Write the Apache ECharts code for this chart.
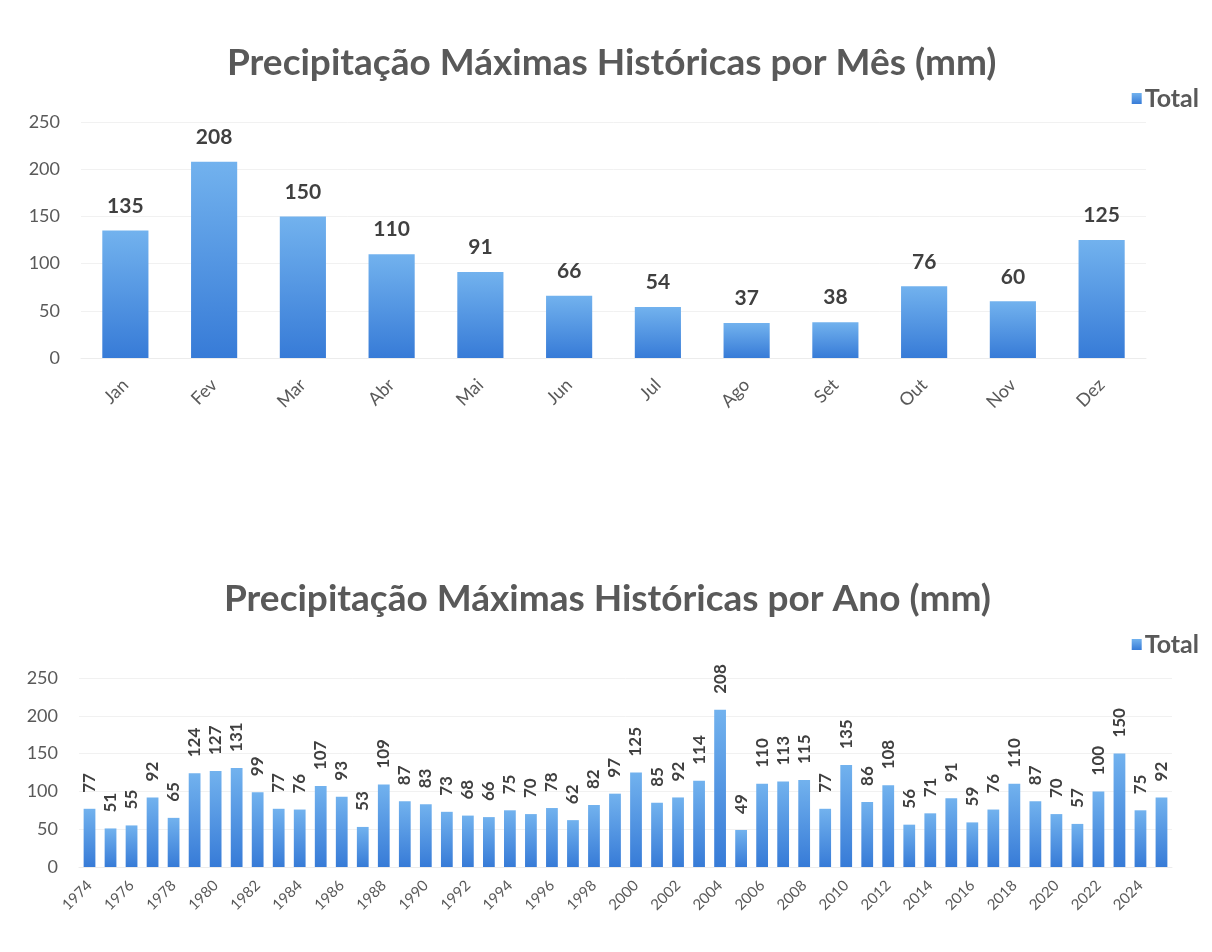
<!DOCTYPE html>
<html>
<head>
<meta charset="utf-8">
<script src="https://cdn.jsdelivr.net/npm/echarts@6/dist/echarts.min.js"></script>
<style>
  html, body { margin: 0; background: #fff; }
  #chart { width: 1212px; height: 952px; }
</style>
</head>
<body>
<div id="chart"></div>
<script>
// maximos mensais
const months = ['Jan', 'Fev', 'Mar', 'Abr', 'Mai', 'Jun', 'Jul', 'Ago', 'Set', 'Out', 'Nov', 'Dez'];
const monthMax = [135, 208, 150, 110, 91, 66, 54, 37, 38, 76, 60, 125];

// maximos anuais
const years = ['1974', '1975', '1976', '1977', '1978', '1979', '1980', '1981', '1982', '1983',
  '1984', '1985', '1986', '1987', '1988', '1989', '1990', '1991', '1992', '1993',
  '1994', '1995', '1996', '1997', '1998', '1999', '2000', '2001', '2002', '2003',
  '2004', '2005', '2006', '2007', '2008', '2009', '2010', '2011', '2012', '2013',
  '2014', '2015', '2016', '2017', '2018', '2019', '2020', '2021', '2022', '2023',
  '2024', '2025'];
const yearMax = [77, 51, 55, 92, 65, 124, 127, 131, 99, 77,
  76, 107, 93, 53, 109, 87, 83, 73, 68, 66,
  75, 70, 78, 62, 82, 97, 125, 85, 92, 114,
  208, 49, 110, 113, 115, 77, 135, 86, 108, 56,
  71, 91, 59, 76, 110, 87, 70, 57, 100, 150,
  75, 92];

const FONT = 'Lato, "Open Sans", sans-serif';
const GRAY = '#595959';

let barColor = new echarts.graphic.LinearGradient(0, 0, 0, 1, [
  { offset: 0, color: '#72b2ee' },
  { offset: 1, color: '#377bd7' }
]);

let chart = echarts.init(document.getElementById('chart'));

let valueAxis = (idx) => ({
  type: 'value',
  gridIndex: idx,
  min: 0,
  max: 250,
  interval: 50,
  axisLabel: { color: GRAY, fontSize: 18, fontFamily: FONT, margin: 21 },
  splitLine: { lineStyle: { color: '#f1f1f1' } },
  axisLine: { show: false },
  axisTick: { show: false }
});

let legendItem = (top) => ({
  data: ['Total'],
  right: 8,
  top: top,
  itemWidth: 10,
  itemHeight: 11,
  icon: 'rect',
  itemGap: 4,
  textStyle: { color: GRAY, fontSize: 25, fontWeight: 'bold', fontFamily: FONT, padding: [0, 0, 0, -2] }
});

let option = {
  animation: false,
  backgroundColor: '#fff',
  title: [
    {
      text: 'Precipitação Máximas Históricas por Mês (mm)',
      left: 222,
      top: 40,
      textStyle: { color: GRAY, fontSize: 37, fontWeight: 'bold', fontFamily: FONT }
    },
    {
      text: 'Precipitação Máximas Históricas por Ano (mm)',
      left: 219,
      top: 576,
      textStyle: { color: GRAY, fontSize: 37, fontWeight: 'bold', fontFamily: FONT }
    }
  ],
  legend: [legendItem(81), legendItem(627)],
  grid: [
    { left: 81, right: 66, top: 122, height: 236 },
    { left: 79, right: 40, top: 678, height: 189 }
  ],
  xAxis: [
    {
      type: 'category',
      gridIndex: 0,
      data: months,
      axisLine: { lineStyle: { color: '#ececec' } },
      axisTick: { show: false },
      axisLabel: { color: GRAY, fontSize: 18, fontFamily: FONT, rotate: 45, margin: 24 }
    },
    {
      type: 'category',
      gridIndex: 1,
      data: years,
      axisLine: { lineStyle: { color: '#ececec' } },
      axisTick: { show: false },
      axisLabel: { color: GRAY, fontSize: 15, fontFamily: FONT, rotate: 45, margin: 16, interval: 1 }
    }
  ],
  yAxis: [valueAxis(0), valueAxis(1)],
  series: [
    {
      name: 'Total',
      type: 'bar',
      xAxisIndex: 0,
      yAxisIndex: 0,
      data: monthMax,
      barCategoryGap: '48%',
      itemStyle: { color: barColor },
      label: {
        show: true,
        position: 'top',
        distance: 14,
        color: '#404040',
        fontSize: 21,
        fontWeight: 'bold',
        fontFamily: FONT
      }
    },
    {
      name: 'Total',
      type: 'bar',
      xAxisIndex: 1,
      yAxisIndex: 1,
      data: yearMax,
      barCategoryGap: '44%',
      itemStyle: { color: barColor },
      label: {
        show: true,
        position: 'top',
        rotate: 90,
        align: 'left',
        verticalAlign: 'middle',
        distance: 16,
        color: '#404040',
        fontSize: 17,
        fontWeight: 'bold',
        fontFamily: FONT
      }
    }
  ]
};

chart.setOption(option);
</script>
</body>
</html>
